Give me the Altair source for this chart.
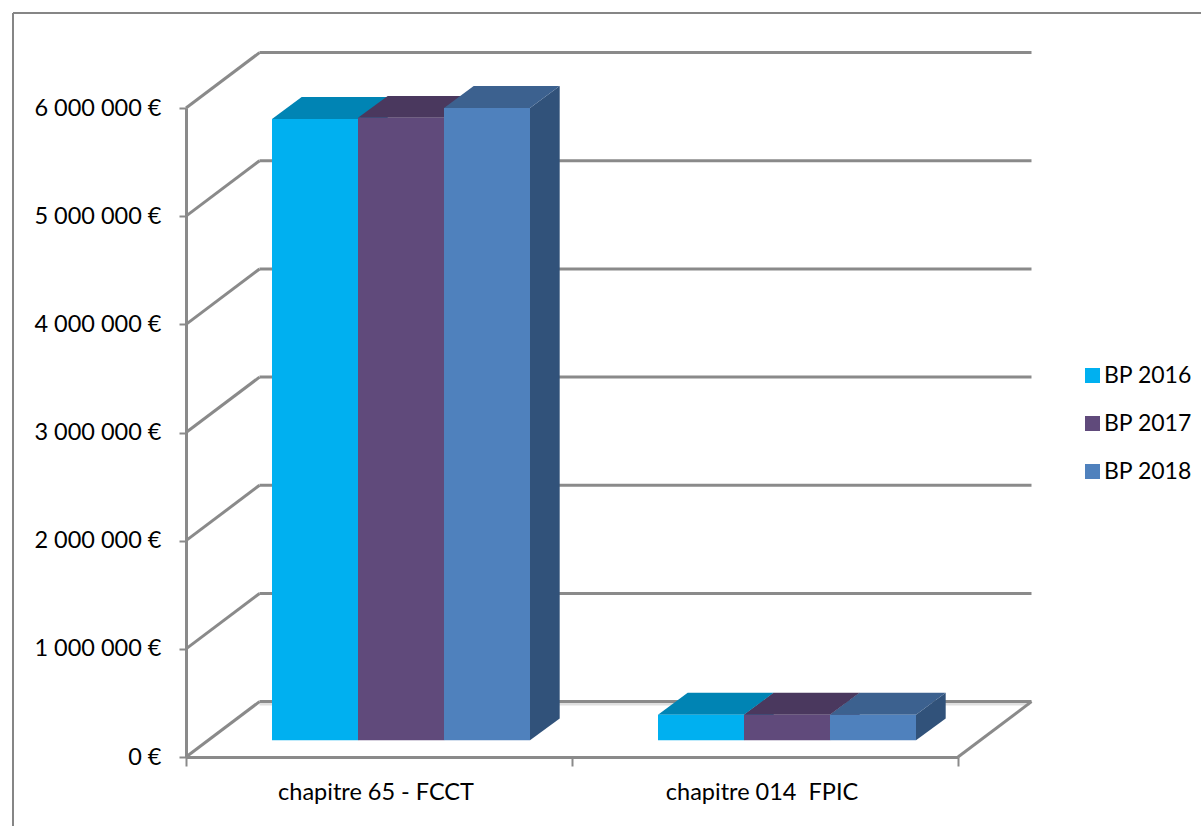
import altair as alt
import pandas as pd

# Budget amounts per chapter and budget year, in euros
categories = ["chapitre 65 - FCCT", "chapitre 014\u00a0 FPIC"]
series = ["BP 2016", "BP 2017", "BP 2018"]
values_fcct = [5745000, 5755000, 5847000]
values_fpic = [237000, 237000, 237000]
y_ticks = [0, 1000000, 2000000, 3000000, 4000000, 5000000, 6000000]
x_ticks = [0, 1, 2]

# Face colours of the extruded columns
front_colors = ["#00b0f0", "#604a7b", "#4f81bd"]
top_colors = ["#0084b4", "#4a385e", "#3c618f"]
side_colors = ["#0084b4", "#4a385e", "#31527a"]

FONT = "Lato"
GREY = "#8a8a8a"

# Oblique projection, expressed in axis units
WALL_DX = 0.1904      # depth of the floor along x
WALL_DY = 512000      # depth of the floor along y
BAR_DX = 0.0769       # depth of one column along x
BAR_DY = 202000       # depth of one column along y
BAR_BASE = 154000     # columns stand a little behind the front edge
BAR_START = 0.2228
BAR_W = 0.2228
FLOOR_SHADE = 23000   # soft band just in front of the back edge of the floor

# Wall lines, floor-edge diagonals
grid = []
for v in y_ticks:
    grid.append(dict(x=0, x2=WALL_DX, y=v, y2=v + WALL_DY))
    grid.append(dict(x=WALL_DX, x2=2 + WALL_DX, y=v + WALL_DY, y2=v + WALL_DY))
grid.append(dict(x=2, x2=2 + WALL_DX, y=0, y2=WALL_DY))
grid = pd.DataFrame(grid)

floor_band = pd.DataFrame(
    {"x": [WALL_DX], "x2": [2 + WALL_DX - 0.005], "y": [WALL_DY - FLOOR_SHADE]}
)

# One row per column face
front, top, side = [], [], []
for c, (cat, vals) in enumerate(zip(categories, [values_fcct, values_fpic])):
    for s, (name, v) in enumerate(zip(series, vals)):
        x0 = c + BAR_START + s * BAR_W
        x1 = x0 + BAR_W
        y0 = BAR_BASE
        y1 = BAR_BASE + v
        bar = f"{c}-{s}"
        front.append(dict(x=x0, x2=x1, y=y0, y2=y1, serie=name))
        top.append(dict(bar=bar, y=y1, x=x0, x2=x1, color=top_colors[s]))
        top.append(dict(bar=bar, y=y1 + BAR_DY, x=x0 + BAR_DX, x2=x1 + BAR_DX, color=top_colors[s]))
        side.append(dict(bar=bar, x=x1, y=y1, y2=y0, color=side_colors[s]))
        side.append(dict(bar=bar, x=x1 + BAR_DX, y=y1 + BAR_DY, y2=y0 + BAR_DY, color=side_colors[s]))
front, top, side = pd.DataFrame(front), pd.DataFrame(top), pd.DataFrame(side)

labels = pd.DataFrame({"x": [0.5, 1.5], "y": [0, 0], "label": categories})

x_scale = alt.Scale(domain=[0, 2], nice=False, zero=False)
y_scale = alt.Scale(domain=[0, 6000000], nice=False, zero=False)

x_axis = alt.Axis(
    values=x_ticks, labels=False, title=None, grid=False,
    tickSize=9, tickWidth=2, tickColor=GREY, domainWidth=3, domainColor=GREY,
)
y_axis = alt.Axis(
    values=y_ticks, title=None, grid=False,
    labelExpr="replace(format(datum.value, ','), /,/g, ' ') + ' €'",
    labelFont=FONT, labelFontSize=23.5, labelColor="#000000", labelPadding=18,
    tickSize=7, tickWidth=2, tickColor=GREY, domainWidth=3, domainColor=GREY,
)

# Wall, floor and both axes
floor_layer = alt.Chart(floor_band).mark_rule(color="#dfdfdf", strokeWidth=3).encode(
    x=alt.X("x:Q", scale=x_scale, axis=x_axis),
    x2="x2:Q",
    y=alt.Y("y:Q", scale=y_scale, axis=y_axis),
)

grid_layer = alt.Chart(grid).mark_rule(color=GREY, strokeWidth=3).encode(
    x=alt.X("x:Q", scale=x_scale),
    x2="x2:Q",
    y=alt.Y("y:Q", scale=y_scale),
    y2="y2:Q",
)

side_layer = alt.Chart(side).mark_area(orient="vertical", opacity=1).encode(
    x=alt.X("x:Q", scale=x_scale),
    y=alt.Y("y:Q", scale=y_scale),
    y2="y2:Q",
    detail="bar:N",
    fill=alt.Fill("color:N", scale=None),
)

top_layer = alt.Chart(top).mark_area(orient="horizontal", opacity=1).encode(
    y=alt.Y("y:Q", scale=y_scale),
    x=alt.X("x:Q", scale=x_scale),
    x2="x2:Q",
    detail="bar:N",
    fill=alt.Fill("color:N", scale=None),
)

front_layer = alt.Chart(front).mark_rect().encode(
    x=alt.X("x:Q", scale=x_scale),
    x2="x2:Q",
    y=alt.Y("y:Q", scale=y_scale),
    y2="y2:Q",
    color=alt.Color(
        "serie:N",
        scale=alt.Scale(domain=series, range=front_colors),
        legend=alt.Legend(
            title=None, orient="none", legendX=895, legendY=256,
            symbolType="square", symbolSize=225, symbolStrokeWidth=0,
            labelFont=FONT, labelFontSize=23, labelColor="#000000",
            labelOffset=0, rowPadding=24, padding=0,
        ),
    ),
)

label_layer = alt.Chart(labels).mark_text(
    font=FONT, fontSize=23.5, color="#000000", baseline="alphabetic", dy=43, dx=-3,
).encode(
    x=alt.X("x:Q", scale=x_scale),
    y=alt.Y("y:Q", scale=y_scale),
    text="label:N",
)

# Frame running off the right and bottom edges
frame_top = alt.Chart(pd.DataFrame({"k": [0]})).mark_rule(color="#868686", strokeWidth=2).encode(
    x=alt.value(-173), x2=alt.value(1015), y=alt.value(-95),
)
frame_left = alt.Chart(pd.DataFrame({"k": [0]})).mark_rule(color="#868686", strokeWidth=2).encode(
    x=alt.value(-173), y=alt.value(-95), y2=alt.value(718),
)

chart = alt.layer(
    frame_top, frame_left, floor_layer, grid_layer, side_layer, top_layer, front_layer, label_layer
).properties(
    width=772,
    height=649,
    padding={"left": 186, "top": 108, "right": 243, "bottom": 69},
    autosize=alt.AutoSizeParams(type="none"),
    background="#ffffff",
).configure_view(stroke=None)

chart.save("out.html", embed_options={"renderer": "svg", "actions": False})
